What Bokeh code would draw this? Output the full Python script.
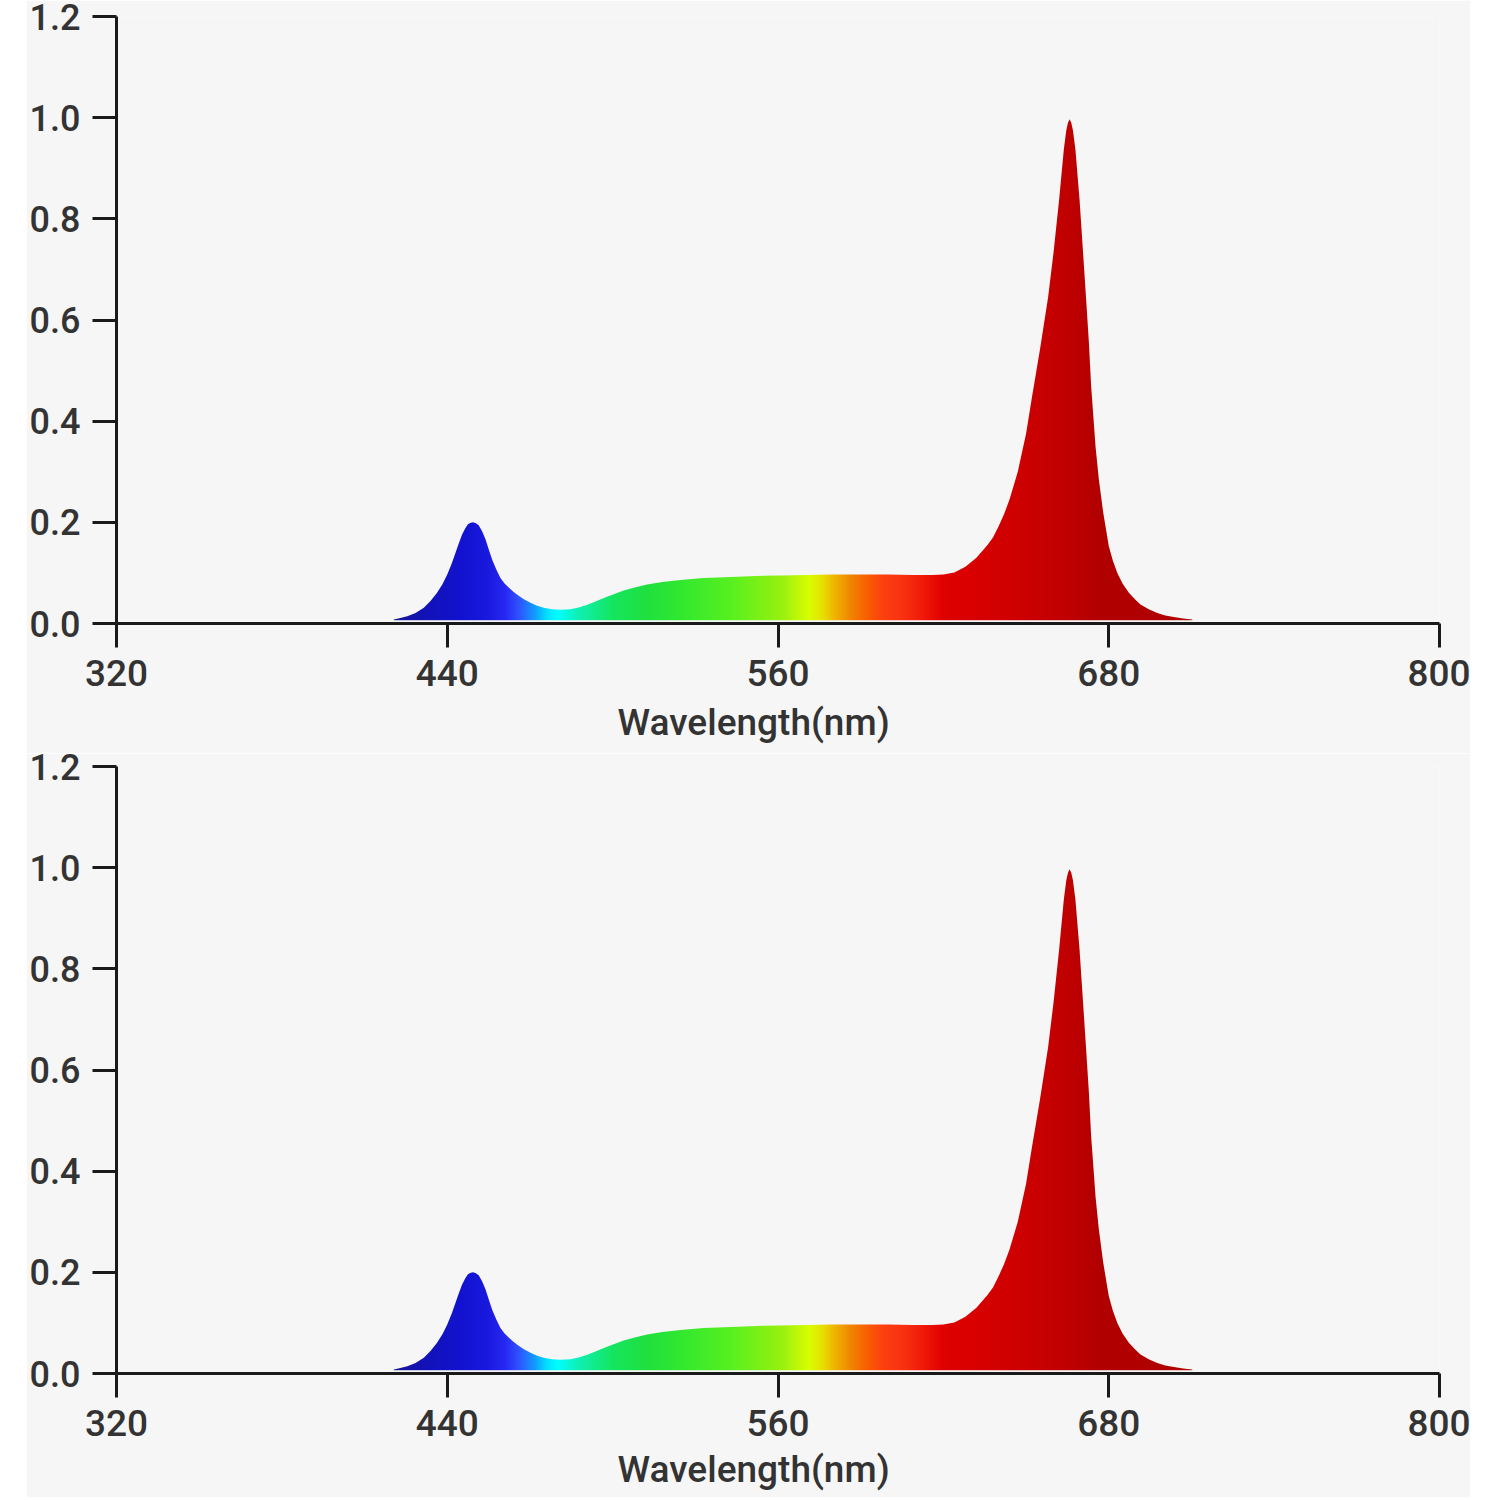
import numpy as np
from bokeh.plotting import figure
from bokeh.models import FixedTicker, PrintfTickFormatter, Title, Spacer, Range1d
from bokeh.layouts import column, row
from bokeh.embed import file_html
from bokeh.resources import INLINE

# ---- data ----
wavelength = [420.6, 423, 425.5, 428.5, 431.5, 434, 436.3, 438.3, 440.0, 441.6, 443.0, 444.3,
              445.4, 446.5, 447.5, 448.5, 449.4, 450.4, 451.4, 452.6, 453.9, 455.1, 456.3,
              457.8, 459.3, 460.8, 462.3, 464, 465.4, 467.8, 470.2, 472.6, 475.0, 478, 481.1,
              484.7, 488, 490.8, 494, 497, 500.4, 504, 508, 512.5, 518, 524.6, 533, 542.8,
              552, 561, 570, 579, 590, 600, 609, 616, 620, 624, 628, 632, 636, 638, 640, 642,
              644, 647, 650, 652, 655, 658, 660, 662, 663.7, 664.6, 665.2, 665.8, 666.4, 667.0,
              667.9, 669.4, 670.6, 671.8, 672.8, 673.6, 674.4, 675.2, 676.4, 678.0, 680.0,
              681.5, 683.1, 685, 687.3, 689.5, 691.5, 694.5, 697.6, 700.5, 703.6, 707, 710.3]
intensity = [0.008, 0.011, 0.0145, 0.021, 0.031, 0.045, 0.061, 0.078, 0.097, 0.118, 0.140,
             0.160, 0.176, 0.188, 0.196, 0.199, 0.200, 0.198, 0.194, 0.183, 0.166, 0.146,
             0.126, 0.107, 0.090, 0.079, 0.071, 0.063, 0.057, 0.048, 0.041, 0.035, 0.031,
             0.028, 0.027, 0.028, 0.032, 0.037, 0.044, 0.051, 0.058, 0.065, 0.071, 0.077,
             0.082, 0.086, 0.090, 0.092, 0.094, 0.095, 0.096, 0.097, 0.097, 0.097, 0.096,
             0.096, 0.097, 0.101, 0.112, 0.130, 0.155, 0.170, 0.192, 0.216, 0.245, 0.300,
             0.375, 0.443, 0.540, 0.645, 0.735, 0.838, 0.937, 0.975, 0.990, 0.997, 0.990,
             0.975, 0.937, 0.838, 0.740, 0.640, 0.555, 0.470, 0.410, 0.350, 0.285, 0.219,
             0.153, 0.124, 0.100, 0.079, 0.061, 0.048, 0.0375, 0.028, 0.021, 0.016, 0.013,
             0.010, 0.008]

x_ticks = [320, 440, 560, 680, 800]
y_ticks = [0.0, 0.2, 0.4, 0.6, 0.8, 1.0, 1.2]
x_title = "Wavelength(nm)"

# ---- colour map of the spectrum (style) ----
grad_nm = [420, 432, 445, 455, 461, 466, 472, 476, 480, 488, 500, 512, 524, 543, 561, 571,
           576, 580, 586, 592, 598, 606, 613, 620, 632, 650, 665, 678, 711]
grad_col = ["#16169a", "#1212b8", "#1212d0", "#1a1ae0", "#2828f5", "#2f55ff", "#12a0ff",
            "#05e0ff", "#00ffff", "#10f0b0", "#15e660", "#20e040", "#30e830", "#58f020",
            "#98f010", "#d8ff00", "#e8e000", "#f0b800", "#f08800", "#f86000", "#fc4010",
            "#f83010", "#f01808", "#e00000", "#d80000", "#cc0000", "#c00000", "#b00000",
            "#b00000"]

BG = "#f6f6f6"
TXT = "#333333"
AX = "#1a1a1a"
FONT = "Roboto Medium"
BASE = 0.0065
TOP = 1.03


def spectrum_image():
    w0, w1 = min(wavelength), max(wavelength)
    xs = np.linspace(w0, w1, 1161)
    rgb = np.array([[int(c[i:i + 2], 16) for i in (1, 3, 5)] for c in grad_col], dtype=float)
    img = np.empty((1, xs.size), dtype=np.uint32)
    view = img.view(dtype=np.uint8).reshape((1, xs.size, 4))
    for k in range(3):
        view[0, :, k] = np.clip(np.interp(xs, grad_nm, rgb[:, k]), 0, 255).astype(np.uint8)
    view[0, :, 3] = 255
    return img


def make_fig(top_border, title_standoff):
    p = figure(frame_width=1323, frame_height=607, output_backend="svg",
               toolbar_location=None, x_range=Range1d(320, 800), y_range=Range1d(0, 1.2),
               min_border_left=90, min_border_right=31, min_border_top=top_border,
               min_border_bottom=120, background_fill_color=BG, border_fill_color=BG)
    p.outline_line_color = None
    p.grid.visible = False

    w0, w1 = min(wavelength), max(wavelength)
    p.image_rgba(image=[spectrum_image()], x=w0, y=BASE, dw=w1 - w0, dh=TOP - BASE)
    # cover everything above the measured curve with the background colour
    mx = [w0 - 2, w0 - 2] + wavelength + [w1 + 2, w1 + 2]
    my = [TOP + 0.02, BASE - 0.003] + intensity + [BASE - 0.003, TOP + 0.02]
    p.patch(mx, my, fill_color=BG, line_color=None)

    p.xaxis.ticker = FixedTicker(ticks=x_ticks)
    p.yaxis.ticker = FixedTicker(ticks=y_ticks)
    p.yaxis.formatter = PrintfTickFormatter(format="%.1f")
    for ax in (p.xaxis, p.yaxis):
        ax.axis_line_width = 3
        ax.axis_line_color = AX
        ax.major_tick_line_width = 3
        ax.major_tick_line_color = AX
        ax.major_tick_in = 0
        ax.major_tick_out = 24
        ax.minor_tick_line_color = None
        ax.major_label_text_font = FONT
        ax.major_label_text_color = TXT
    p.xaxis.major_label_text_font_size = "37px"
    p.yaxis.major_label_text_font_size = "36px"
    p.xaxis.major_label_standoff = 12
    p.yaxis.major_label_standoff = 12

    t = Title(text=x_title, align="left", offset=501, text_font=FONT, text_font_size="37px",
              text_font_style="normal", text_color=TXT, standoff=title_standoff)
    p.add_layout(t, "below")
    return p


p1 = make_fig(16, 20)
p2 = make_fig(13, 14)
layout = row(Spacer(width=26), column(p1, p2, spacing=0), spacing=0)

open("out.html", "w").write(file_html(layout, INLINE))
